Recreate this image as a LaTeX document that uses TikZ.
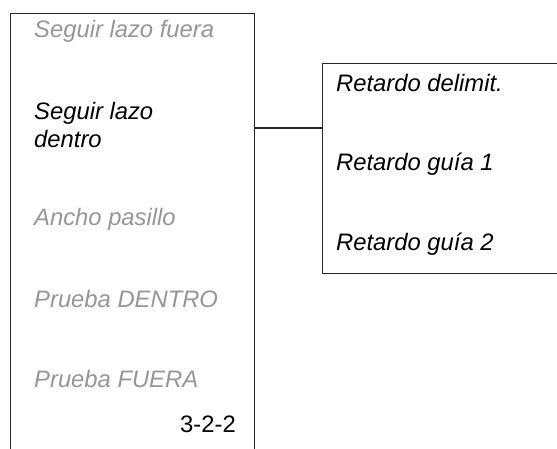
\documentclass[tikz,border=0pt]{standalone}
\usepackage{fontspec}
\setmainfont{Liberation Sans}
\definecolor{dimtext}{RGB}{150,150,150}
\definecolor{linecol}{RGB}{40,40,40}
\begin{document}
\begin{tikzpicture}[x=1pt,y=1pt,
  box/.style={draw=linecol,line width=1.1pt,rectangle,inner sep=0,anchor=north west},
  lbl/.style={inner sep=0,anchor=base west,font=\fontsize{23.8}{28}\selectfont\itshape,text=black,align=left},
  dim/.style={lbl,text=dimtext}]
\useasboundingbox (0,0) rectangle (557,-448);
\node[box,minimum width=244pt,minimum height=450pt] (lbox) at (10,-13) {};
\node[box,minimum width=260pt,minimum height=210pt] (rbox) at (322,-63) {};
\coordinate (j) at (0,-128);
\draw[draw=linecol,line width=1.1pt] (lbox.east |- j) -- (rbox.west |- j);
\node[dim] (t1) at (34,-37) {Seguir lazo fuera};
\node[lbl] (t2) at (34,-147) {Seguir lazo\\dentro};
\node[dim] (t3) at (34,-225) {Ancho pasillo};
\node[dim] (t4) at (34,-307) {Prueba DENTRO};
\node[dim] (t5) at (34,-387) {Prueba FUERA};
\node[lbl,anchor=base east,font=\fontsize{23.8}{28}\selectfont] (num) at (236,-432) {3-2-2};
\node[lbl] (r1) at (336,-91) {Retardo delimit.};
\node[lbl] (r2) at (336,-170) {Retardo guía 1};
\node[lbl] (r3) at (336,-250) {Retardo guía 2};
\end{tikzpicture}
\end{document}
